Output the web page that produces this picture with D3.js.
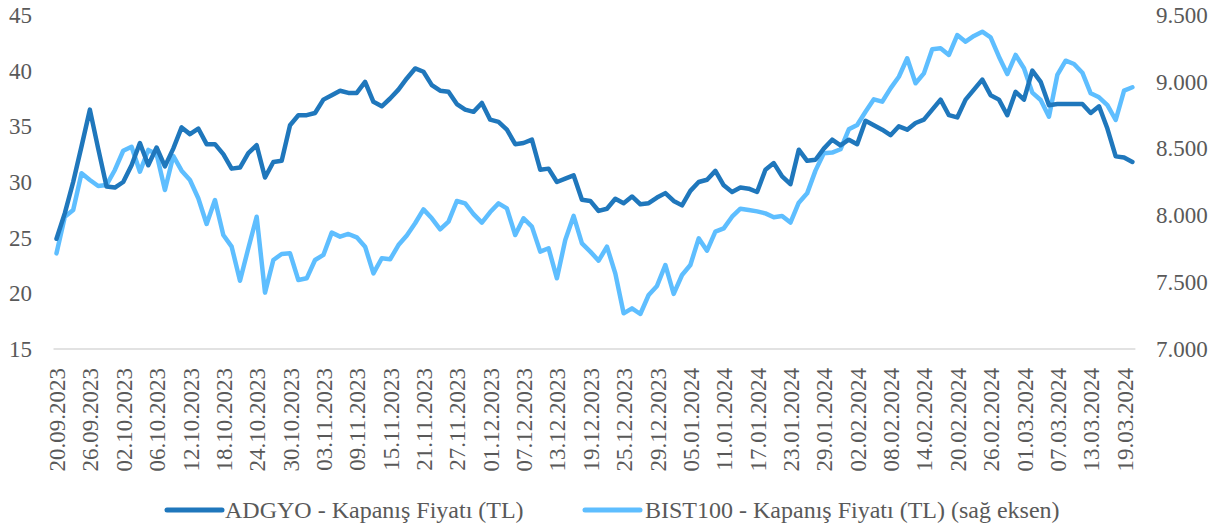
<!DOCTYPE html>
<html>
<head>
<meta charset="utf-8">
<script src="https://cdn.jsdelivr.net/npm/d3@7"></script>
<style>
  html, body { margin: 0; padding: 0; background: #ffffff; }
  svg { display: block; font-family: "Liberation Serif", "Times New Roman", serif; }
</style>
</head>
<body>
<svg id="chart" width="1225" height="532"></svg>
<script>
// ---- Data ----
const dates = [
  "20.09.2023","21.09.2023","22.09.2023","25.09.2023","26.09.2023","27.09.2023","28.09.2023","29.09.2023",
  "02.10.2023","03.10.2023","04.10.2023","05.10.2023","06.10.2023","09.10.2023","10.10.2023","11.10.2023",
  "12.10.2023","13.10.2023","16.10.2023","17.10.2023","18.10.2023","19.10.2023","20.10.2023","23.10.2023",
  "24.10.2023","25.10.2023","26.10.2023","27.10.2023","30.10.2023","31.10.2023",
  "01.11.2023","02.11.2023","03.11.2023","06.11.2023","07.11.2023","08.11.2023","09.11.2023","10.11.2023",
  "13.11.2023","14.11.2023","15.11.2023","16.11.2023","17.11.2023","20.11.2023","21.11.2023","22.11.2023",
  "23.11.2023","24.11.2023","27.11.2023","28.11.2023","29.11.2023","30.11.2023",
  "01.12.2023","04.12.2023","05.12.2023","06.12.2023","07.12.2023","08.12.2023","11.12.2023","12.12.2023",
  "13.12.2023","14.12.2023","15.12.2023","18.12.2023","19.12.2023","20.12.2023","21.12.2023","22.12.2023",
  "25.12.2023","26.12.2023","27.12.2023","28.12.2023","29.12.2023",
  "02.01.2024","03.01.2024","04.01.2024","05.01.2024","08.01.2024","09.01.2024","10.01.2024","11.01.2024",
  "12.01.2024","15.01.2024","16.01.2024","17.01.2024","18.01.2024","19.01.2024","22.01.2024","23.01.2024",
  "24.01.2024","25.01.2024","26.01.2024","29.01.2024","30.01.2024","31.01.2024",
  "01.02.2024","02.02.2024","05.02.2024","06.02.2024","07.02.2024","08.02.2024","09.02.2024","12.02.2024",
  "13.02.2024","14.02.2024","15.02.2024","16.02.2024","19.02.2024","20.02.2024","21.02.2024","22.02.2024",
  "23.02.2024","26.02.2024","27.02.2024","28.02.2024","29.02.2024",
  "01.03.2024","04.03.2024","05.03.2024","06.03.2024","07.03.2024","08.03.2024","11.03.2024","12.03.2024",
  "13.03.2024","14.03.2024","15.03.2024","18.03.2024","19.03.2024","20.03.2024"
];

const adgyo = [
  24.9,27.2,30.0,33.2,36.5,33.0,29.6,29.5,30.0,31.5,
  33.5,31.5,33.1,31.4,33.0,34.9,34.3,34.8,33.4,33.4,
  32.5,31.2,31.3,32.6,33.3,30.4,31.8,31.9,35.1,36.0,
  36.0,36.2,37.4,37.8,38.2,38.0,38.0,39.0,37.2,36.8,
  37.5,38.3,39.3,40.2,39.9,38.7,38.2,38.1,37.0,36.5,
  36.3,37.1,35.6,35.4,34.7,33.4,33.5,33.8,31.1,31.2,
  30.0,30.3,30.6,28.4,28.3,27.4,27.6,28.5,28.1,28.7,
  28.0,28.1,28.6,29.0,28.3,27.9,29.2,30.0,30.2,31.0,
  29.7,29.1,29.5,29.4,29.1,31.1,31.7,30.5,29.8,32.9,
  31.9,32.0,33.0,33.8,33.3,33.8,33.4,35.5,35.1,34.7,
  34.2,35.0,34.7,35.3,35.6,36.5,37.4,36.0,35.8,37.4,
  38.3,39.2,37.8,37.4,36.0,38.1,37.4,40.0,39.0,36.9,
  37.0,37.0,37.0,37.0,36.2,36.8,34.8,32.3,32.2,31.8
];

const bist100 = [
  7716,7990,8040,8315,8265,8220,8228,8340,8484,8514,
  8327,8490,8460,8190,8445,8335,8265,8128,7936,8115,
  7853,7766,7511,7754,7990,7422,7666,7711,7716,7516,
  7529,7666,7704,7871,7841,7861,7836,7766,7566,7679,
  7671,7778,7850,7941,8045,7978,7896,7953,8108,8090,
  8010,7946,8025,8090,8053,7853,7978,7916,7729,7754,
  7529,7816,7996,7791,7729,7661,7766,7566,7267,7304,
  7262,7404,7472,7629,7412,7554,7629,7828,7736,7878,
  7903,7990,8050,8040,8030,8015,7986,7996,7946,8095,
  8165,8335,8465,8470,8495,8644,8677,8776,8869,8851,
  8951,9038,9176,8989,9063,9243,9251,9201,9350,9300,
  9343,9375,9333,9188,9058,9201,9101,8919,8864,8739,
  9051,9158,9133,9068,8914,8884,8826,8714,8934,8959
];

const leftTicks = [15, 20, 25, 30, 35, 40, 45];
const rightTicks = [7000, 7500, 8000, 8500, 9000, 9500];
const xTickLabels = dates.filter((d, i) => i % 4 === 0);

const seriesNames = ["ADGYO - Kapanış Fiyatı (TL)", "BIST100 - Kapanış Fiyatı (TL) (sağ eksen)"];
const colors = ["#1f77bc", "#5ebeff"];

// ---- Chart ----
const svg = d3.select("#chart");
const textColor = "#595959";

const x = d3.scalePoint().domain(dates).range([56.5, 1132.4]);
const yL = d3.scaleLinear().domain([15, 45]).range([349, 15]);
const yR = d3.scaleLinear().domain([7000, 9500]).range([349, 15]);

const trLocale = d3.formatLocale({ decimal: ",", thousands: ".", grouping: [3], currency: ["", " TL"] });
const fmtR = trLocale.format(",.3~f");
const fmtThousands = v => trLocale.format(",d")(v).replace(/^(\d)\.(\d{3})$/, "$1.$2");

// bottom axis line
svg.append("line")
  .attr("x1", x.range()[0] - 3).attr("x2", x.range()[1] + 3)
  .attr("y1", yL(15)).attr("y2", yL(15))
  .attr("stroke", "#d9d9d9").attr("stroke-width", 1.5);

// left axis
const gL = svg.append("g").attr("transform", "translate(32,0)")
  .call(d3.axisLeft(yL).tickValues(leftTicks).tickSize(0).tickPadding(0).tickFormat(d3.format("d")));
gL.select(".domain").remove();
gL.selectAll("text").attr("fill", textColor).style("font-size", "23px")
  .style("font-family", '"Liberation Serif", "Times New Roman", serif');

// right axis
const gR = svg.append("g").attr("transform", "translate(1156,0)")
  .call(d3.axisRight(yR).tickValues(rightTicks).tickSize(0).tickPadding(0).tickFormat(fmtThousands));
gR.select(".domain").remove();
gR.selectAll("text").attr("fill", textColor).style("font-size", "23px")
  .style("font-family", '"Liberation Serif", "Times New Roman", serif');

// bottom axis labels
const gX = svg.append("g").attr("transform", `translate(0,${yL(15)})`)
  .call(d3.axisBottom(x).tickValues(xTickLabels).tickSize(0).tickPadding(0));
gX.select(".domain").remove();
gX.selectAll("text")
  .attr("fill", textColor)
  .style("font-size", "23px")
  .style("font-family", '"Liberation Serif", "Times New Roman", serif')
  .attr("transform", "rotate(-90)")
  .attr("text-anchor", "end")
  .attr("x", -19)
  .attr("y", 0)
  .attr("dy", "0.35em");

// lines
const lineL = d3.line().x((d, i) => x(dates[i])).y(d => yL(d));
const lineR = d3.line().x((d, i) => x(dates[i])).y(d => yR(d));

svg.append("path").datum(bist100)
  .attr("d", lineR).attr("fill", "none")
  .attr("stroke", colors[1]).attr("stroke-width", 4.5)
  .attr("stroke-linejoin", "round").attr("stroke-linecap", "round");

svg.append("path").datum(adgyo)
  .attr("d", lineL).attr("fill", "none")
  .attr("stroke", colors[0]).attr("stroke-width", 4.5)
  .attr("stroke-linejoin", "round").attr("stroke-linecap", "round");

// legend
const legendItems = [
  { name: seriesNames[0], color: colors[0], x1: 167, x2: 222, tx: 225 },
  { name: seriesNames[1], color: colors[1], x1: 585, x2: 640, tx: 645 }
];
const lg = svg.append("g");
legendItems.forEach(it => {
  lg.append("line").attr("x1", it.x1).attr("x2", it.x2).attr("y1", 510).attr("y2", 510)
    .attr("stroke", it.color).attr("stroke-width", 5).attr("stroke-linecap", "round");
  lg.append("text").attr("x", it.tx).attr("y", 510).attr("dy", "0.35em")
    .attr("fill", textColor).style("font-size", "24px").text(it.name);
});
</script>
</body>
</html>
